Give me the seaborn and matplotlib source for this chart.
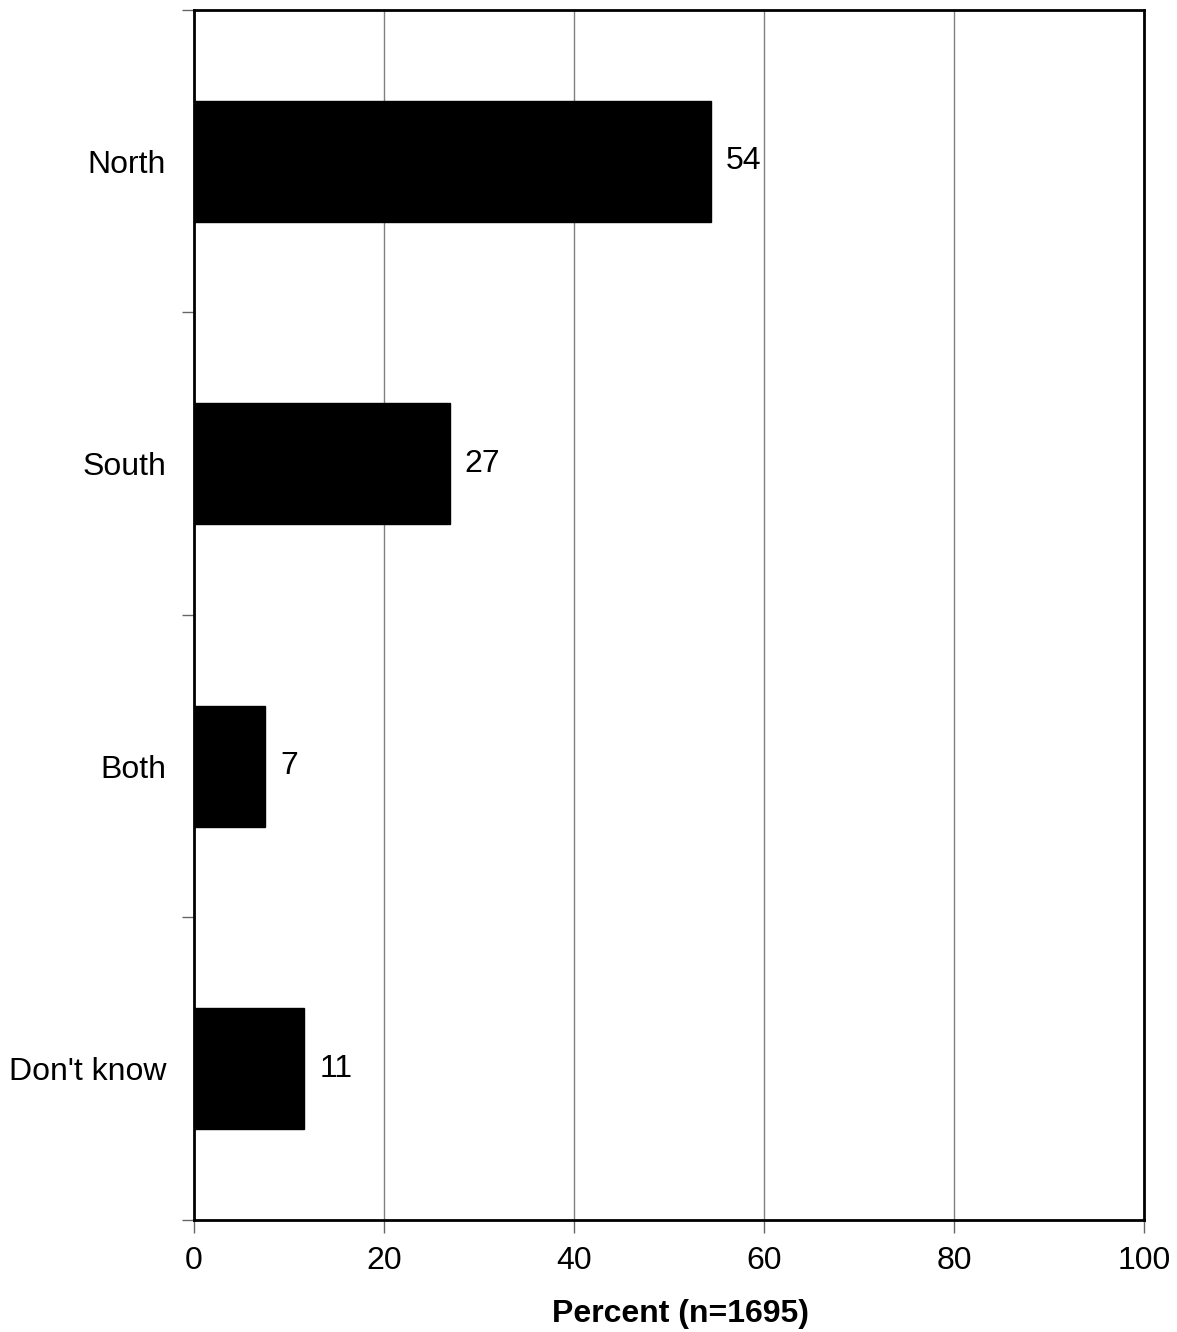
import numpy as np
import pandas as pd
import matplotlib
matplotlib.use('Agg')
import matplotlib.pyplot as plt
import seaborn as sns

# Data
categories = ['North', 'South', 'Both', "Don't know"]
percent = [54.4, 26.9, 7.5, 11.6]
value_labels = ['54', '27', '7', '11']
x_ticks = [0, 20, 40, 60, 80, 100]

sns.set_theme(style='white')
plt.rcParams['font.family'] = ['Liberation Sans', 'DejaVu Sans']
plt.rcParams['text.color'] = 'black'
plt.rcParams['xtick.labelcolor'] = 'black'
plt.rcParams['ytick.labelcolor'] = 'black'
plt.rcParams['axes.labelcolor'] = 'black'

df = pd.DataFrame({'category': categories, 'percent': percent})

fig = plt.figure(figsize=(11.77, 13.32), dpi=100)
ax = fig.add_axes([0.1648, 0.0841, 0.8072, 0.9084])

sns.barplot(data=df, x='percent', y='category', orient='h', color='black',
            width=0.4, saturation=1, edgecolor='black', ax=ax, zorder=3)

# Value labels at end of each bar
ax.bar_label(ax.containers[0], labels=value_labels, padding=11,
             fontsize=23, color='black')

ax.set_xlim(0, 100)
ax.set_ylim(len(categories) - 0.5, -0.5)
ax.set_xticks(x_ticks)
ax.set_xticklabels([str(t) for t in x_ticks])

# Category labels without tick marks; tick marks at category boundaries
ax.tick_params(axis='y', which='major', length=0, pad=20, labelsize=23,
               labelcolor='black')
ax.set_yticks(np.arange(-0.5, len(categories), 1.0), minor=True)
ax.tick_params(axis='y', which='minor', length=9, width=1, color='#666666',
               direction='out', left=True)
ax.tick_params(axis='x', which='major', length=9, width=1, color='#666666',
               direction='out', bottom=True, pad=10, labelsize=23,
               labelcolor='black')

ax.xaxis.grid(True, color='#808080', linewidth=1)
ax.yaxis.grid(False)
ax.set_axisbelow(True)

for side in ['left', 'right', 'top', 'bottom']:
    ax.spines[side].set_visible(True)
    ax.spines[side].set_color('black')
    ax.spines[side].set_linewidth(2)
    ax.spines[side].set_zorder(4)

ax.set_ylabel('')
ax.set_xlabel('Percent (n=1695)', fontsize=23, fontweight='bold',
              color='black')
ax.xaxis.set_label_coords(0.512, -0.065)

fig.savefig('out.png', dpi=100)
